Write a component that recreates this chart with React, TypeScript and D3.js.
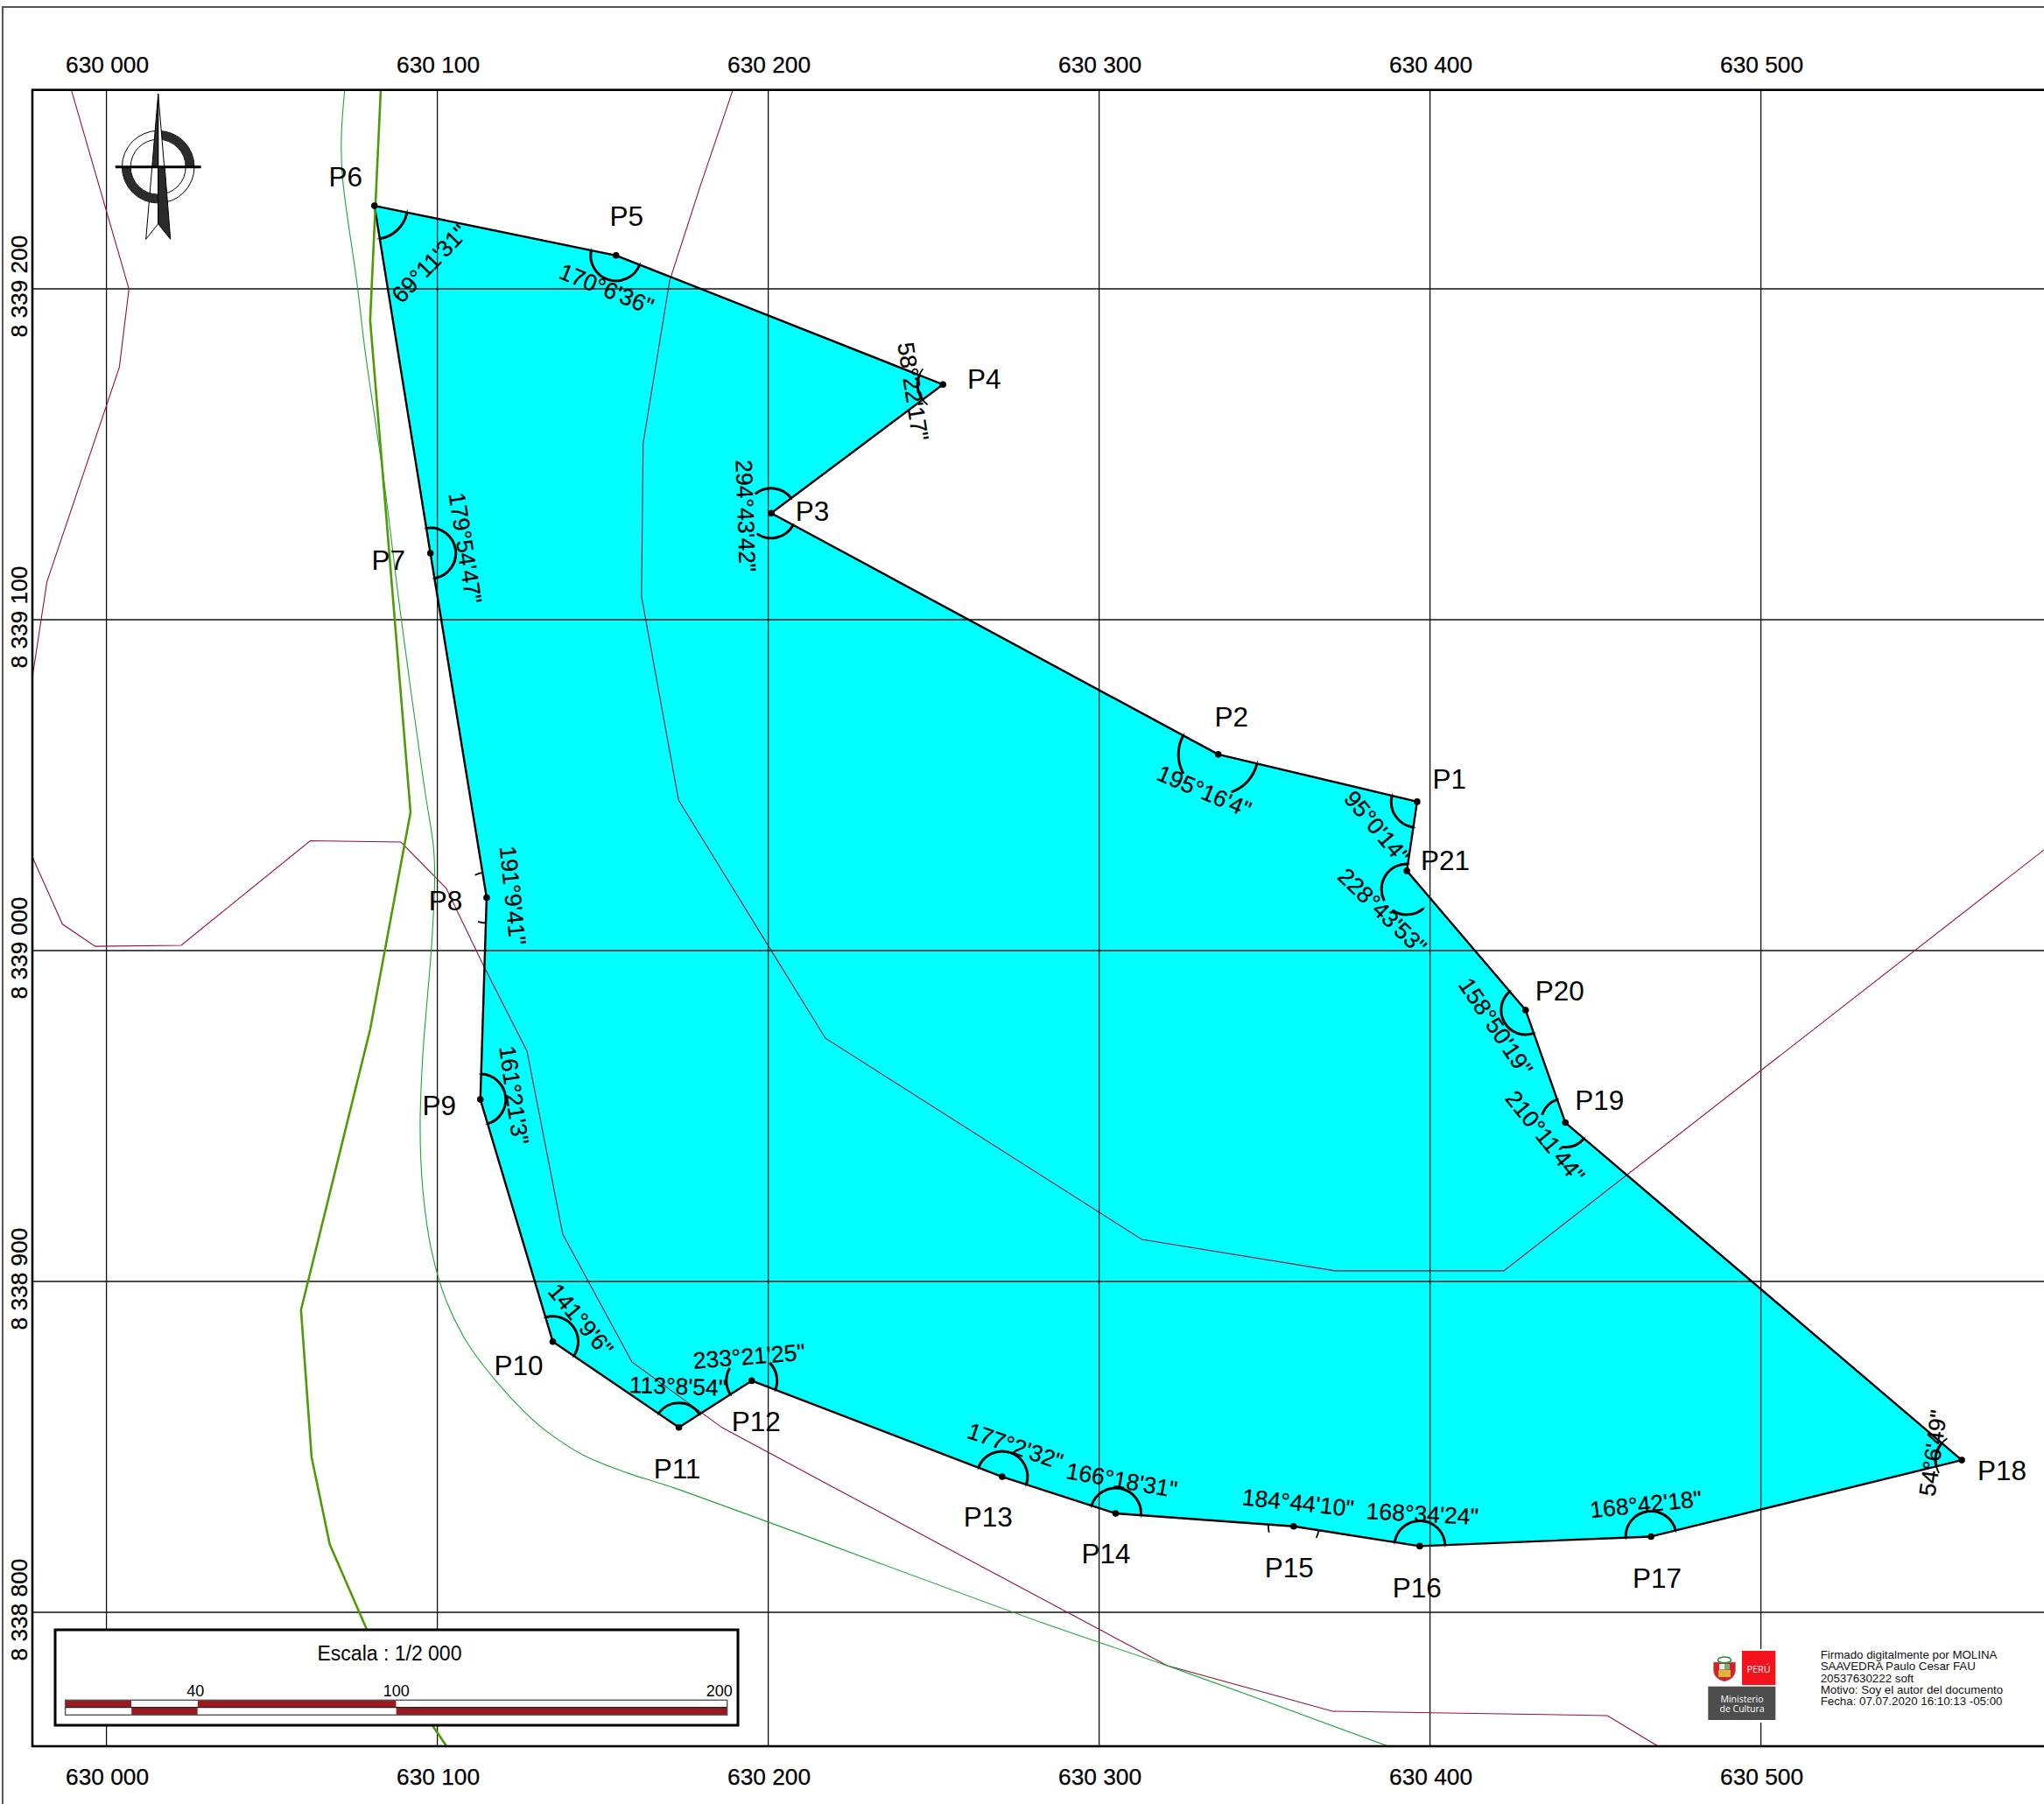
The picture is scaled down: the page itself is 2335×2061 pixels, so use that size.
import React from "react";
import * as d3 from "d3";

// ---------- data (map coordinates, metres) ----------
const eastTicks = [630000, 630100, 630200, 630300, 630400, 630500];
const northTicks = [8339200, 8339100, 8339000, 8338900, 8338800];

const pointNames = ["P1","P2","P3","P4","P5","P6","P7","P8","P9","P10","P11","P12","P13","P14","P15","P16","P17","P18","P19","P20","P21"];
const pointEast = [630396.1,630336.0,630200.9,630252.8,630154.0,630081.0,630097.9,630114.9,630113.0,630134.9,630173.0,630195.0,630270.7,630305.0,630358.8,630396.9,630466.8,630560.7,630440.9,630428.9,630393.0];
const pointNorth = [8339045.0,8339059.3,8339132.2,8339171.1,8339210.1,8339225.1,8339120.1,8339016.0,8338955.0,8338881.8,8338855.9,8338870.0,8338841.0,8338829.9,8338826.0,8338820.0,8338822.9,8338846.0,8338948.0,8338982.0,8339024.1];
const angleLabels = [`95°0'14"`,`195°16'4"`,`294°43'42"`,`58°22'17"`,`170°6'36"`,`69°11'31"`,`179°54'47"`,`191°9'41"`,`161°21'3"`,`141°9'6"`,`113°8'54"`,`233°21'25"`,`177°2'32"`,`166°18'31"`,`184°44'10"`,`168°34'24"`,`168°42'18"`,`54°6'49"`,`210°11'44"`,`158°50'19"`,`228°43'53"`];

const redRoadA: [number, number][] = [[629989.4,8339260.1],[630006.8,8339200],[630003.9,8339176.3],[629982,8339111.4],[629977.6,8339082.5]];
const redRoadB: [number, number][] = [[629977.7,8339028.1],[629986.7,8339008],[629996.6,8339001.3],[630022.6,8339001.6],[630061.6,8339033.2],[630089,8339032.8],[630102.7,8339018.8],[630114.1,8338995.2],[630127.1,8338969.6],[630137.9,8338914.3],[630158.8,8338875.7],[630186.1,8338855.8],[630219.1,8338838.1],[630320.5,8338783.9],[630370.5,8338770.1],[630453.6,8338768.8],[630468.9,8338759.5]];
const redRoadC: [number, number][] = [[630189.3,8339260.1],[630179.5,8339231.2],[630170.2,8339202.4],[630162.2,8339153.3],[630161.7,8339107.1],[630172.9,8339045.5],[630200.6,8339000.5],[630217.3,8338973.5],[630312.9,8338912.7],[630371.3,8338903.2],[630422.3,8338903.2],[630585.5,8339030.4]];
const greenDark: [number, number][] = [[630082.9,8339260.1],[630079.7,8339190.5],[630091.9,8339041.8],[630079.7,8338976.2],[630058.8,8338891.4],[630062,8338846.9],[630067.5,8338820.5],[630078.6,8338795],[630102.8,8338759.5]];
const greenLight: [number, number][] = [[630072,8339260.1],[630071,8339246],[630071.3,8339234.1],[630075.8,8339201.1],[630077.9,8339183.3],[630079.2,8339173.8],[630084,8339141],[630088.7,8339103.2],[630096.1,8339049.2],[630098.8,8339031.7],[630099.2,8339022.2],[630098.3,8339002.1],[630095.6,8338968.3],[630094.8,8338946.6],[630095.6,8338927.8],[630098.3,8338909],[630102.8,8338893.9],[630108.9,8338881.7],[630117.8,8338869.8],[630126.6,8338860.3],[630133.7,8338854.2],[630144.3,8338847.4],[630157.5,8338842.1],[630171.5,8338837.6],[630282.9,8338796.8],[630320.5,8338783.9],[630387.4,8338759.5]];

const scaleBreaks = [0, 20, 40, 100, 200];
const scaleLabels = [40, 100, 200];
const signature = ["Firmado digitalmente por MOLINA","SAAVEDRA Paulo Cesar FAU","20537630222 soft","Motivo: Soy el autor del documento","Fecha: 07.07.2020 16:10:13 -05:00"];

// ---------- placement of annotations, relative to each point ----------
const nameOffsets = [[37,-26],[15,-43],[47,-2],[47,-6],[12,-45],[-33,-33],[-48,8],[-47,3.5],[-47,7],[-39,27],[-2,47],[5,47],[-16,46],[-11,46],[-5,47],[-3,48],[7,48],[46,12],[39,-25.5],[39,-22],[44,-12]];
const angleOffsets = [[-46,29],[-16,42],[-29,3],[-34,8],[-11,38],[63,66],[40,-6],[30,-2.5],[38.5,-5],[32,-25],[-1,-47],[-3,-28],[15,-35],[7,-38],[5,-27],[3,-37],[-6,-37],[-33,-8],[-23,16],[-34,19],[-28,46]];
const angleRotation = [50,23,88,81,22,-46,81,84,82,50,2,-4.5,19,10,6,3,-6,-82,51,56,44];
const arcRadius = [29.6,45.5,28.5,29,29,38,29,29,29,29,28,29,29,29,29,29,29,30,28,28,29];
// Parts of each arc hidden behind its label, in degrees clockwise from north.
const arcGaps: number[][][] = [[],[[161,241]],[[215,320]],[],[],[],[],[[0,720]],[],[],[],[[300,405]],[],[],[[0,720]],[],[],[],[[186,288]],[],[[215,243]]];
// How far each arc runs past the polygon edge, in degrees.
const arcOvershoot = [5,4,5,16,5,5,5,18,5,5,5,5,5,5,18,5,5,16,5,5,5];

const W = 2335, H = 2061;
const frame = { left: 37, top: 102.7, right: W, bottom: 1995 };
const FONT = "'Liberation Sans', Arial, sans-serif";
const x = d3.scaleLinear().domain([630000, 630500]).range([121.6, 2011.6]);
const y = d3.scaleLinear().domain([8339200, 8338800]).range([330, 1842]);
const scaleBar = d3.scaleLinear().domain([0, 200]).range([74.6, 830.7]);
const mapLine = d3.line<[number, number]>().x((d) => x(d[0])).y((d) => y(d[1]));
const smoothLine = mapLine.curve(d3.curveCatmullRom);
const straightLine = d3.line<[number, number]>().x((d) => x(d[0])).y((d) => y(d[1]));
const fmt = (v: number) => d3.format(",")(v).replace(/,/g, " ");

const pts = pointNames.map((name, i) => ({ name, px: x(pointEast[i]), py: y(pointNorth[i]) }));
const bearing = (a: { px: number; py: number }, b: { px: number; py: number }) =>
  ((Math.atan2(b.px - a.px, a.py - b.py) * 180) / Math.PI + 360) % 360;

function arcPath(cx: number, cy: number, r: number, from: number, to: number) {
  const p = d3.path();
  const rad = (b: number) => ((b - 90) * Math.PI) / 180;
  p.arc(cx, cy, r, rad(from), rad(to), false);
  return p.toString();
}

function angleArcs() {
  const thick: string[] = [];
  const thin: { d: string; w: number }[] = [];
  pts.forEach((pt, i) => {
    const prev = pts[(i + pts.length - 1) % pts.length];
    const next = pts[(i + 1) % pts.length];
    let a0 = bearing(pt, prev);
    let a1 = bearing(pt, next);
    if (a1 <= a0) a1 += 360;
    let cy = pt.py;
    if (pt.name === "P21") { a0 = 139; a1 = 362; cy += 21; }
    const r = arcRadius[i];
    let cur = a0;
    arcGaps[i].forEach(([g0, g1]) => {
      if (g0 > cur) thick.push(arcPath(pt.px, cy, r, cur, g0));
      cur = Math.max(cur, g1);
    });
    if (cur < a1) thick.push(arcPath(pt.px, cy, r, cur, a1));
    const ext = arcOvershoot[i];
    const w = ext > 10 ? 1.8 : 0.8;
    thin.push({ d: arcPath(pt.px, cy, r, a0 - ext, a0 + 1), w });
    thin.push({ d: arcPath(pt.px, cy, r, a1 - 1, a1 + ext), w });
  });
  return { thick, thin };
}

function Compass() {
  const cx = 180.7, cy = 190.7, ro = 41.3, ri = 31.5, dark = "#2b2b2b";
  const ringArc = d3.arc<any>().innerRadius(ri).outerRadius(ro);
  return (
    <g>
      <polygon points={`${cx - 7},${cy} ${cx - 14},${cy + 82.6} ${cx},${cy + 65} ${cx},${cy}`} fill="#fff" stroke="#000" strokeWidth={1} />
      <circle cx={cx} cy={cy} r={ro} fill="none" stroke="#000" strokeWidth={1} />
      <circle cx={cx} cy={cy} r={ri} fill="none" stroke="#000" strokeWidth={1} />
      <path transform={`translate(${cx},${cy})`} d={ringArc({ startAngle: 0, endAngle: Math.PI / 2 }) as string} fill={dark} />
      <path transform={`translate(${cx},${cy})`} d={ringArc({ startAngle: Math.PI, endAngle: (3 * Math.PI) / 2 }) as string} fill={dark} />
      <polygon points={`${cx},${cy - 83.4} ${cx + 7},${cy} ${cx},${cy}`} fill="#fff" stroke="#000" strokeWidth={1} />
      <polygon points={`${cx},${cy - 83.4} ${cx - 7},${cy} ${cx},${cy}`} fill={dark} stroke="#000" strokeWidth={1} />
      <polygon points={`${cx},${cy} ${cx + 7.5},${cy} ${cx + 14},${cy + 82.6} ${cx},${cy + 65}`} fill={dark} stroke="#000" strokeWidth={1} />
      <line x1={cx - 49} x2={cx + 49} y1={cy} y2={cy} stroke="#000" strokeWidth={3} />
    </g>
  );
}

function Logo() {
  return (
    <g>
      <rect x={1945} y={1884} width={90} height={84} fill="#fff" />
      <rect x={1990} y={1886} width={38.3} height={39} fill="#f4121d" />
      <text x={2009} y={1911} textAnchor="middle" fontFamily="'Open Sans', sans-serif" fontSize={11.5} fill="#fff" textLength={27} lengthAdjust="spacingAndGlyphs">PERÚ</text>
      <rect x={1951.3} y={1926.7} width={77} height={38.3} fill="#4d4d4d" />
      <text x={1990} y={1945} textAnchor="middle" fontFamily="'Open Sans', sans-serif" fontSize={10.5} fill="#fff">Ministerio</text>
      <text x={1990} y={1955.5} textAnchor="middle" fontFamily="'Open Sans', sans-serif" fontSize={10.5} fill="#fff">de Cultura</text>
      <path d="M1957.5,1899 h25 v9 q0,10 -12.5,13 q-12.5,-3 -12.5,-13 z" fill="#d4202a" stroke="#999" strokeWidth={0.7} />
      <rect x={1964} y={1901} width={6} height={6.5} fill="#e8f0e0" />
      <rect x={1970} y={1901} width={6} height={6.5} fill="#7fae7a" />
      <rect x={1963} y={1908} width={14} height={8} fill="#e2b23a" />
      <ellipse cx={1970} cy={1896.5} rx={7.5} ry={3.5} fill="none" stroke="#2e8b3d" strokeWidth={1.6} />
    </g>
  );
}

export default function App() {
  const outline = pts.map((p) => `${p.px},${p.py}`).join(" ");
  const { thick, thin } = angleArcs();
  const barY = [1942.3, 1950.6, 1959.3];
  const textInk = { stroke: "#000", strokeWidth: 0.25 };
  return (
    <svg width={W} height={H} viewBox={`0 0 ${W} ${H}`} style={{ position: "absolute", left: 0, top: 0, display: "block", background: "#fff" }} fontFamily={FONT}>
      <defs>
        <clipPath id="mapClip">
          <rect x={frame.left} y={frame.top} width={frame.right - frame.left} height={frame.bottom - frame.top} />
        </clipPath>
      </defs>
      <path d={`M${W},8 H3 V${H}`} fill="none" stroke="#555" strokeWidth={2} />

      <g clipPath="url(#mapClip)">
        <polygon points={outline} fill="#00ffff" />
        {eastTicks.map((e) => <line key={e} x1={x(e)} x2={x(e)} y1={frame.top} y2={frame.bottom} stroke="#111" strokeWidth={1.3} />)}
        {northTicks.map((n) => <line key={n} y1={y(n)} y2={y(n)} x1={frame.left} x2={frame.right} stroke="#111" strokeWidth={1.3} />)}
        {[redRoadA, redRoadB, redRoadC].map((l, i) => <path key={i} d={straightLine(l) as string} fill="none" stroke="#8f1239" strokeWidth={1.1} />)}
        <path d={smoothLine(greenLight) as string} fill="none" stroke="#1fa33a" strokeWidth={1.1} />
        <polygon points={outline} fill="none" stroke="#000" strokeWidth={2.4} strokeLinejoin="round" />
        <path d={straightLine(greenDark) as string} fill="none" stroke="#4f9a06" strokeWidth={2.6} />
      </g>

      {thick.map((d, i) => <path key={i} d={d} fill="none" stroke="#000" strokeWidth={3} />)}
      {thin.map((t, i) => <path key={i} d={t.d} fill="none" stroke="#000" strokeWidth={t.w} />)}
      {pts.map((p) => <circle key={p.name} cx={p.px} cy={p.py} r={3.8} fill="#000" />)}
      {pts.map((p, i) => (
        <text key={p.name} x={p.px + nameOffsets[i][0]} y={p.py + nameOffsets[i][1]} dy="0.35em" textAnchor="middle" fontSize={31.5}>{p.name}</text>
      ))}
      {pts.map((p, i) => (
        <text key={p.name} transform={`translate(${p.px + angleOffsets[i][0]},${p.py + angleOffsets[i][1]}) rotate(${angleRotation[i]})`} dy="0.35em" textAnchor="middle" fontSize={26.5} {...textInk}>{angleLabels[i]}</text>
      ))}

      <rect x={frame.left} y={frame.top} width={frame.right - frame.left + 5} height={frame.bottom - frame.top} fill="none" stroke="#000" strokeWidth={2.6} />

      {eastTicks.map((e) => (
        <g key={e} fontSize={26.3} textAnchor="middle" {...textInk}>
          <text x={x(e) + 1} y={74} dy="0.35em">{fmt(e)}</text>
          <text x={x(e) + 1} y={2030} dy="0.35em">{fmt(e)}</text>
        </g>
      ))}
      {northTicks.map((n) => (
        <text key={n} transform={`translate(22,${y(n) - 3}) rotate(-90)`} dy="0.35em" fontSize={26.3} textAnchor="middle" {...textInk}>{fmt(n)}</text>
      ))}

      <Compass />

      <rect x={63} y={1862} width={780} height={109} fill="#fff" stroke="#000" strokeWidth={3} />
      <text x={445} y={1889} dy="0.35em" textAnchor="middle" fontSize={23}>Escala : 1/2 000</text>
      {scaleBreaks.slice(0, -1).map((b, i) => (
        <g key={b}>
          <rect x={scaleBar(b)} y={barY[0]} width={scaleBar(scaleBreaks[i + 1]) - scaleBar(b)} height={barY[1] - barY[0]} fill={i % 2 === 0 ? "#9b1a1f" : "#fff"} />
          <rect x={scaleBar(b)} y={barY[1]} width={scaleBar(scaleBreaks[i + 1]) - scaleBar(b)} height={barY[2] - barY[1]} fill={i % 2 === 0 ? "#fff" : "#9b1a1f"} />
        </g>
      ))}
      <rect x={scaleBar(0)} y={barY[0]} width={scaleBar(200) - scaleBar(0)} height={barY[2] - barY[0]} fill="none" stroke="#555" strokeWidth={1.4} />
      <line x1={scaleBar(0)} x2={scaleBar(200)} y1={barY[1]} y2={barY[1]} stroke="#222" strokeWidth={1.4} />
      {scaleLabels.map((v) => (
        <text key={v} x={v === 200 ? scaleBar(v) + 6 : v === 40 ? scaleBar(v) - 2.5 : scaleBar(v)} y={1932} dy="0.35em" textAnchor={v === 200 ? "end" : "middle"} fontSize={18}>{v}</text>
      ))}

      <Logo />
      {signature.map((s, i) => (
        <text key={s} x={2079.7} y={1895 + i * 13.33} fontSize={13.3} fill="#111">{s}</text>
      ))}
    </svg>
  );
}
